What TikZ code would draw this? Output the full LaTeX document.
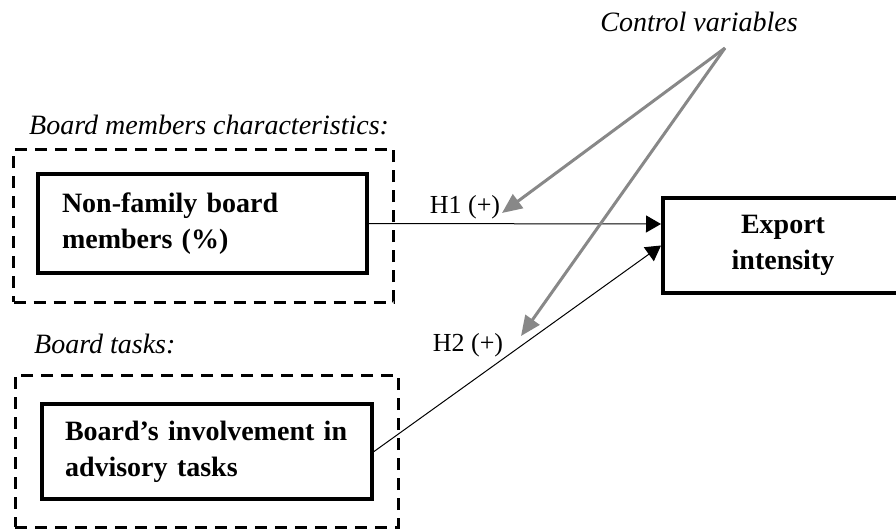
\documentclass[tikz,border=0pt]{standalone}
\usepackage{fontspec}
\setmainfont{Liberation Serif}
\usetikzlibrary{arrows.meta}

\begin{document}
\begin{tikzpicture}[x=1pt,y=1pt,yscale=-1,xscale=1,
  groupbox/.style={draw,line width=3pt,dash pattern=on 12pt off 8pt,minimum width=#1},
  varbox/.style={draw,line width=4pt,font=\fontsize{28}{36}\selectfont\bfseries},
  hyplink/.style={line width=1pt,-{Triangle[length=15pt,width=17pt]}},
  ctrllink/.style={color={rgb,255:red,136;green,136;blue,136},line width=3pt,-{Triangle[length=20pt,width=17pt]}},
  caption/.style={font=\fontsize{28}{34}\selectfont\itshape,inner sep=0pt},
  hyp/.style={font=\fontsize{26}{30}\selectfont,inner sep=0pt}]
\clip (0,0) rectangle (896,531);

%Shape: Dashed Rectangle [id:grp1]
\node [groupbox=380pt,minimum height=153pt] (grp1) at (203.5,225.5) {};
%Shape: Dashed Rectangle [id:grp2]
\node [groupbox=383pt,minimum height=152pt] (grp2) at (206.5,451) {};

%Shape: Rectangle [id:nfb]
\node [varbox,minimum width=329pt,minimum height=99pt,inner xsep=24pt,text width=281pt,align=left] (nfb) at (202.5,223.5) {Non-family board\\members (\%)};
%Shape: Rectangle [id:adv]
\node [varbox,minimum width=330pt,minimum height=95pt,inner xsep=23pt,text width=284pt,align=left] (adv) at (207,451.5) {Board’s involvement in\\advisory tasks};
%Shape: Rectangle [id:exp]
\node [varbox,minimum width=240pt,minimum height=95pt,align=center] (exp) at (783,245.5) {Export\\intensity};

%Straight Lines [id:h1]
\draw [hyplink] (nfb.east) -- (exp.170);
%Straight Lines [id:h2]
\draw [hyplink] (adv.east) -- (exp.west);

%Straight Lines [id:ctrl]
\coordinate (ctlpt) at (725,48);
\coordinate (tip1) at (502,213);
\coordinate (tip2) at (521,336);
\draw [ctrllink] (ctlpt) -- (tip1);
\draw [ctrllink] (ctlpt) -- (tip2);

% Text Node
\node [caption] (ctl) at (699,22) {Control variables};
% Text Node
\node [caption,anchor=west] (bmc) at (29,125) {Board members characteristics:};
% Text Node
\node [caption,anchor=west] (btk) at (34,344) {Board tasks:};
% Text Node
\node [hyp] (lh1) at (465,207) {H1 (+)};
% Text Node
\node [hyp] (lh2) at (468,345) {H2 (+)};

\end{tikzpicture}
\end{document}
